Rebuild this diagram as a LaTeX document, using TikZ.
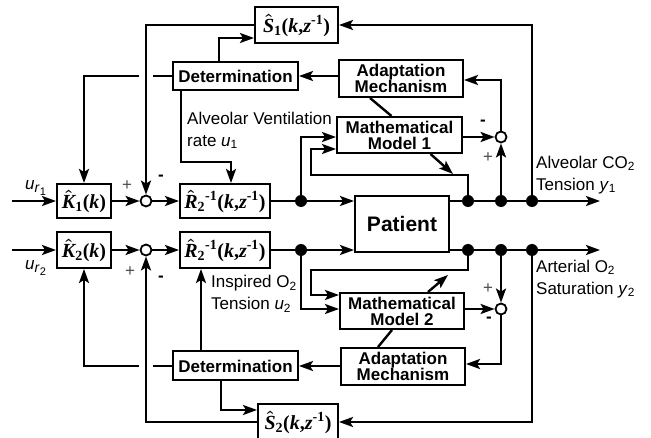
\documentclass[tikz,border=0pt]{standalone}
\usepackage{amsmath}
\usepackage{fontspec}
\setmainfont{Liberation Serif}
\setsansfont{Liberation Sans}
\usetikzlibrary{arrows.meta}
\newcommand{\hatsym}[1]{$\hat{\textit{#1}}$}
\newcommand{\refsig}[1]{\textit{u}\raisebox{-3pt}{\fontsize{14}{14}\selectfont\textit{r}}\raisebox{-6pt}{\fontsize{11}{11}\selectfont #1}}
\tikzset{
    plain-box/.style = {draw, fill=white, line width=2pt, rectangle, inner sep=0pt, align=center, font=\sffamily\bfseries\fontsize{17}{16}\selectfont},
    math-box/.style = {plain-box, font=\rmfamily\bfseries\boldmath\fontsize{20}{22}\selectfont},
    sum-node/.style = {draw, fill=white, circle, line width=1.8pt, minimum size=11pt, inner sep=0pt},
    tap-dot/.style = {fill, circle, minimum size=12pt, inner sep=0pt},
    signal-label/.style = {font=\sffamily\fontsize{17}{22}\selectfont, align=left, anchor=west, inner sep=0pt},
    sign-label/.style = {font=\sffamily\fontsize{17}{17}\selectfont, inner sep=0pt},
    plus-sign/.style = {sign-label, text=black!70},
    minus-sign/.style = {sign-label, font=\sffamily\bfseries\fontsize{17}{17}\selectfont},
    plain-line/.style = {line width=2.4pt},
    wire/.style = {plain-line, -{Stealth[length=14pt, width=10pt, inset=3pt]}},
}

\begin{document}
\begin{tikzpicture}[x=1pt, y=-1pt]
\useasboundingbox (0,0) rectangle (651,438);
% upper loop: CO2
\node[math-box, minimum width=83pt, minimum height=36pt] (S1) at (296.5,25) {\hatsym{S}\textsubscript{1}(\textit{k},\textit{z}\textsuperscript{-1})};
\node[plain-box, minimum width=125pt, minimum height=28pt] (det1) at (235.5,76) {Determination};
\node[plain-box, minimum width=124pt, minimum height=37pt] (adapt1) at (401,78.5) {Adaptation\\Mechanism};
\node[plain-box, minimum width=125pt, minimum height=36pt] (model1) at (399.5,135) {Mathematical\\Model 1};
\node[math-box, minimum width=54pt, minimum height=34pt] (K1) at (84,201) {\hatsym{K}\textsubscript{1}(\textit{k})};
\node[sum-node] (sum1) at (146,201) {};
\node[math-box, minimum width=90pt, minimum height=34pt] (R1) at (225,201) {\hatsym{R}\textsubscript{2}\textsuperscript{-1}(\textit{k},\textit{z}\textsuperscript{-1})};
\node[sum-node] (err1) at (501,137) {};
\node[plain-box, minimum width=94pt, minimum height=56pt, font=\sffamily\bfseries\fontsize{21}{24}\selectfont] (patient) at (402,224) {Patient};
\node[tap-dot] (t1a) at (301,201) {};
\node[tap-dot] (t1b) at (468,201) {};
\node[tap-dot] (t1c) at (501,201) {};
\node[tap-dot] (t1d) at (532,201) {};
\coordinate (in1) at (12,201);
\coordinate (out1) at (600,201);
\coordinate (loop1) at (311,175);
\coordinate (bend1) at (231,162);
\coordinate (adj1) at (453,174);

% lower loop: O2
\node[math-box, minimum width=54pt, minimum height=36pt] (K2) at (84,250) {\hatsym{K}\textsubscript{2}(\textit{k})};
\node[sum-node] (sum2) at (146,250) {};
\node[math-box, minimum width=90pt, minimum height=36pt] (R2) at (225,250) {\hatsym{R}\textsubscript{2}\textsuperscript{-1}(\textit{k},\textit{z}\textsuperscript{-1})};
\node[plain-box, minimum width=124pt, minimum height=36pt] (model2) at (402,311) {Mathematical\\Model 2};
\node[sum-node] (err2) at (501,309) {};
\node[plain-box, minimum width=124pt, minimum height=37pt] (adapt2) at (403,366.5) {Adaptation\\Mechanism};
\node[plain-box, minimum width=125pt, minimum height=29pt] (det2) at (235.5,366) {Determination};
\node[math-box, minimum width=80pt, minimum height=36pt] (S2) at (298,422) {\hatsym{S}\textsubscript{2}(\textit{k},\textit{z}\textsuperscript{-1})};
\node[tap-dot] (t2a) at (301,250) {};
\node[tap-dot] (t2b) at (468,250) {};
\node[tap-dot] (t2c) at (501,250) {};
\node[tap-dot] (t2d) at (532,250) {};
\coordinate (in2) at (12,250);
\coordinate (out2) at (600,250);
\coordinate (loop2) at (311,270);
\coordinate (adj2) at (448,275);

% upper connections
\draw[wire] (in1) -- (K1);
\draw[wire] (K1) -- (sum1);
\draw[wire] (sum1) -- (R1);
\draw[plain-line] (R1) -- (t1a);
\draw[wire] (t1a) -- (t1a -| patient.west);
\draw[wire] (patient.east |- t1a) -- (out1);
\draw[wire] (t1a) |- (model1.west |- err1);
\draw[wire] (t1b) |- (loop1) |- ([yshift=-14pt]model1.west);
\draw[wire] (model1.east |- err1) -- (err1);
\draw[wire] (t1c) -- (err1);
\draw[wire] (err1) |- ([yshift=-1.5pt]adapt1.east);
\draw[wire] (adapt1.west |- det1) -- (det1);
\draw[wire] (t1d) |- (S1);
\draw[wire] (S1.west) -| (sum1);
\draw[wire] ([xshift=-16.5pt]det1.north) |- ([yshift=-13pt]S1.west);
\draw[plain-line] (det1.west) -- ([xshift=7pt]det1.west -| sum1);
\draw[wire] ([xshift=-7pt]det1.west -| sum1) -| (K1);
\draw[wire] ([xshift=-54.5pt]det1.south) |- (bend1) -- (bend1 |- R1.north);
\draw[plain-line] ([xshift=-31pt]adapt1.south) -- ([xshift=-8pt]model1.north);
\draw[wire] ([xshift=31pt]model1.south) -- (adj1);

% lower connections
\draw[wire] (in2) -- (K2);
\draw[wire] (K2) -- (sum2);
\draw[wire] (sum2) -- (R2);
\draw[plain-line] (R2) -- (t2a);
\draw[wire] (t2a) -- (t2a -| patient.west);
\draw[wire] (patient.east |- t2a) -- (out2);
\draw[wire] (t2a) |- (model2.west |- err2);
\draw[wire] (t2b) |- (loop2) |- ([yshift=16pt]model2.west);
\draw[wire] (model2.east |- err2) -- (err2);
\draw[wire] (t2c) -- (err2);
\draw[wire] (err2) |- ([yshift=2.5pt]adapt2.east);
\draw[wire] (adapt2.west |- det2) -- (det2);
\draw[wire] ([xshift=-34.5pt]det2.north) -- ([xshift=-34.5pt]det2.north |- R2.south);
\draw[plain-line] (det2.west) -- ([xshift=7pt]det2.west -| sum2);
\draw[wire] ([xshift=-7pt]det2.west -| sum2) -| (K2);
\draw[wire] ([xshift=-14.5pt]det2.south) |- ([yshift=12pt]S2.west);
\draw[wire] (S2.west) -| (sum2);
\draw[wire] (t2d) |- (S2);
\draw[plain-line] ([xshift=-25pt]adapt2.north) -- ([xshift=-10pt]model2.south);
\draw[wire] ([xshift=26pt]model2.north) -- (adj2);

% labels
\node[signal-label] (lab-r1) at (25,188) {\refsig{1}};
\node[signal-label] (lab-r2) at (25,268) {\refsig{2}};
\node[signal-label] (lab-u1) at (187,130.5) {Alveolar Ventilation\\rate \textit{u}\textsubscript{1}};
\node[signal-label] (lab-u2) at (211,294) {Inspired O\textsubscript{2}\\Tension \textit{u}\textsubscript{2}};
\node[signal-label] (lab-y1) at (536,175) {Alveolar CO\textsubscript{2}\\Tension \textit{y}\textsubscript{1}};
\node[signal-label] (lab-y2) at (536,279) {Arterial O\textsubscript{2}\\Saturation \textit{y}\textsubscript{2}};

% signs
\node[plus-sign] (p1) at (127,186) {+};
\node[minus-sign] (m1) at (161,178) {-};
\node[plus-sign] (p2) at (130,272) {+};
\node[minus-sign] (m2) at (161,279) {-};
\node[minus-sign] (m3) at (483,123) {-};
\node[plus-sign] (p3) at (488,158) {+};
\node[plus-sign] (p4) at (488,289) {+};
\node[minus-sign] (m4) at (489,320) {-};
\end{tikzpicture}
\end{document}
